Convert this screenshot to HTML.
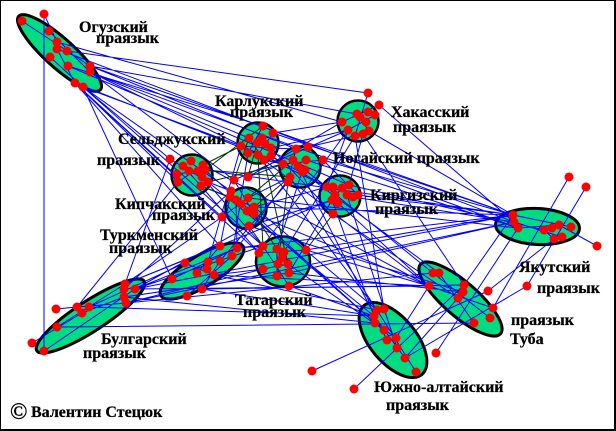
<!DOCTYPE html>
<html><head><meta charset="utf-8">
<style>
html,body{margin:0;padding:0;background:#fff;}
svg{display:block;}
text{font-family:"Liberation Serif","DejaVu Serif",serif;font-weight:bold;font-size:16px;fill:#000;stroke:#000;stroke-width:0.25;}
</style></head>
<body>
<svg width="616" height="431" viewBox="0 0 616 431" xmlns="http://www.w3.org/2000/svg">
<rect x="0" y="0" width="616" height="431" fill="#fff"/>
<rect x="0" y="0" width="616" height="1" fill="#000"/>
<rect x="0" y="0" width="1" height="431" fill="#000"/>
<rect x="0" y="429" width="616" height="2" fill="#000"/>
<rect x="614" y="0" width="2" height="431" fill="#000"/>

<g fill="#00dc82" stroke="#000" stroke-width="3">
<ellipse cx="59.5" cy="53" rx="55" ry="14.5" transform="rotate(42 59.5 53)"/>
<ellipse cx="202" cy="271" rx="48" ry="15.5" transform="rotate(-31 202 271)"/>
<ellipse cx="90.5" cy="316" rx="64" ry="15" transform="rotate(-33 90.5 316)"/>
<ellipse cx="537.5" cy="226.5" rx="42" ry="18" transform="rotate(3 537.5 226.5)"/>
<ellipse cx="460.5" cy="299" rx="53" ry="17" transform="rotate(41 460.5 299)"/>
<ellipse cx="393" cy="340" rx="45" ry="23" transform="rotate(50 393 340)"/>
</g>
<g fill="#00dc82" stroke="#000" stroke-width="2.5">
<circle cx="258" cy="143" r="20.5"/>
<circle cx="358" cy="121" r="20.5"/>
<circle cx="192" cy="175" r="20.5"/>
<circle cx="300" cy="167" r="20.5"/>
<circle cx="340" cy="196" r="20.5"/>
<circle cx="246" cy="208" r="20.5"/>
<ellipse cx="283" cy="261.5" rx="27" ry="25"/>
</g>

<path fill="none" stroke="#0000ff" stroke-width="1" d="
M67,51 L368,93 M57,42 L342,122 M90,66 L357,114
M68,66 L263,126 M90,72 L249,138 M83,87 L241,146
M90,66 L296,149 M75,83 L283,164
M90,72 L327,187 M68,66 L349,185
M90,66 L513,215 M90,72 L518,228 M57,49 L514,222
M83,87 L170,159 M75,83 L178,182
M83,87 L231,191 M75,83 L222,217 M90,72 L234,180
M83,87 L263,246 M75,83 L259,253
M75,83 L220,246 M83,87 L172,279
M44,14 L44,351
M22,21 L90,66 M44,14 L57,42 M49,31 L90,72 M50,57 L83,87 M57,49 L75,83
M125,284 L220,246 M135,289 L237,248 M89,307 L185,263
M125,284 L222,217 M124,289 L231,191 M135,289 L249,226
M125,284 L170,159 M77,307 L178,182
M135,289 L263,246 M126,303 L263,269 M124,297 L289,273
M135,289 L429,286 M126,303 L433,273 M57,327 L474,323
M89,307 L374,316 M124,297 L375,323
M135,289 L513,215 M126,303 L514,222
M125,284 L332,200
M56,309 L77,307 M57,327 L125,284 M44,351 L135,289 M32,343 L82,313 M82,313 L124,297 M77,307 L126,303
M237,248 L263,246 M214,275 L263,269
M220,246 L230,197 M237,248 L236,200
M232,256 L248,153 M208,262 L241,146
M237,248 L290,177 M220,261 L288,182
M214,275 L429,286 M202,289 L464,285
M202,289 L374,316 M214,275 L377,310
M237,248 L513,215
M172,279 L237,248 M187,296 L232,256 M185,263 L214,275 M197,273 L220,246 M202,289 L220,261
M208,182 L231,191 M201,186 L230,197
M202,177 L263,246 M201,186 L259,253
M208,182 L374,316 M205,170 L375,323
M203,165 L429,286 M205,170 L513,215
M170,159 L208,182 M177,174 L205,170 M183,166 L201,186 M178,182 L203,165
M273,133 L342,122 M271,148 L348,130
M271,148 L296,149 M264,160 L283,164
M271,156 L327,187 M271,148 L333,214
M273,133 L513,215 M264,160 L429,286 M258,155 L377,310
M263,126 L248,153 M241,146 L271,148 M249,138 L264,160 M273,133 L258,155
M342,122 L296,149 M355,136 L308,147
M348,130 L327,187 M363,134 L349,185
M342,122 L248,177 M348,130 L234,180
M355,136 L284,252 M348,130 L263,246
M369,131 L513,215 M379,105 L514,222
M363,134 L464,285 M355,136 L384,309
M368,93 L355,136 M342,122 L379,105 M357,114 L369,131 M348,130 L375,115
M283,164 L248,177 M290,177 L248,198
M302,172 L277,249
M323,160 L358,195 M305,170 L327,187
M323,160 L513,215 M306,160 L518,228
M305,170 L433,273 M302,172 L439,273
M290,177 L377,310 M298,166 L387,340
M296,149 L288,182 M283,164 L323,160 M293,160 L305,170
M327,187 L254,207 M332,200 L249,226
M335,195 L289,273
M358,195 L513,215 M353,197 L514,222 M349,185 L544,230
M338,203 L429,286 M333,214 L458,298
M332,200 L374,316 M347,195 L397,348
M327,187 L358,195 M333,187 L338,203 M342,188 L332,200
M254,214 L429,286 M249,226 L463,292
M254,207 L377,310 M247,211 L375,323
M254,207 L513,215 M248,198 L518,228
M234,180 L254,214 M230,197 L254,207 M222,217 L248,198
M306,250 L429,286 M289,273 L463,292
M289,286 L374,316 M288,264 L384,330
M306,250 L513,215 M289,273 L514,222
M263,246 L289,286 M259,253 L306,250 M263,269 L288,264 M277,249 L277,276
M429,286 L396,338 M458,298 L405,358
M464,285 L513,215 M488,291 L554,239
M433,273 L490,318 M429,286 L493,308 M439,273 L474,323 M464,285 L458,298
M377,310 L416,372 M374,316 L405,358 M384,309 L397,348 M375,323 L396,338
M513,215 L571,227 M514,222 L562,237 M518,228 L559,225 M544,230 L554,239
M569,177 L493,308 M586,187 L527,286 M597,246 L559,225
M527,286 L405,358 M436,353 L518,228
M312,371 L488,291 M354,389 L464,285
"/>

<path fill="none" stroke="#003000" stroke-width="1" d="
M203,165 L241,146 M205,170 L263,126 M208,182 L283,164 M205,170 L290,177
M248,177 L257,143 M234,180 L249,138
M254,207 L290,177 M248,198 L293,160
M249,226 L263,246 M254,214 L277,249
M258,155 L263,246 M264,160 L288,264 M288,182 L278,264
M333,214 L306,250 M201,186 L236,200 M271,156 L283,164
"/>

<g fill="#ff0000">
<circle cx="44" cy="14" r="4.5"/><circle cx="22" cy="21" r="4.5"/><circle cx="49" cy="31" r="4.5"/><circle cx="57" cy="42" r="4.5"/><circle cx="57" cy="49" r="4.5"/><circle cx="67" cy="51" r="4.5"/><circle cx="50" cy="57" r="4.5"/><circle cx="68" cy="66" r="4.5"/><circle cx="90" cy="66" r="4.5"/><circle cx="90" cy="72" r="4.5"/><circle cx="75" cy="83" r="4.5"/><circle cx="83" cy="87" r="4.5"/>
<circle cx="263" cy="126" r="4.5"/><circle cx="273" cy="133" r="4.5"/><circle cx="249" cy="138" r="4.5"/><circle cx="262" cy="138" r="4.5"/><circle cx="257" cy="143" r="4.5"/><circle cx="265" cy="144" r="4.5"/><circle cx="241" cy="146" r="4.5"/><circle cx="271" cy="148" r="4.5"/><circle cx="248" cy="153" r="4.5"/><circle cx="258" cy="155" r="4.5"/><circle cx="271" cy="156" r="4.5"/><circle cx="264" cy="160" r="4.5"/>
<circle cx="368" cy="93" r="4.5"/><circle cx="379" cy="105" r="4.5"/><circle cx="357" cy="114" r="4.5"/><circle cx="368" cy="112" r="4.5"/><circle cx="375" cy="115" r="4.5"/><circle cx="342" cy="122" r="4.5"/><circle cx="360" cy="117" r="4.5"/><circle cx="366" cy="122" r="4.5"/><circle cx="348" cy="130" r="4.5"/><circle cx="363" cy="134" r="4.5"/><circle cx="369" cy="131" r="4.5"/><circle cx="355" cy="136" r="4.5"/>
<circle cx="296" cy="149" r="4.5"/><circle cx="308" cy="147" r="4.5"/><circle cx="323" cy="160" r="4.5"/><circle cx="283" cy="164" r="4.5"/><circle cx="293" cy="160" r="4.5"/><circle cx="306" cy="160" r="4.5"/><circle cx="298" cy="166" r="4.5"/><circle cx="305" cy="170" r="4.5"/><circle cx="302" cy="172" r="4.5"/><circle cx="290" cy="177" r="4.5"/><circle cx="288" cy="182" r="4.5"/>
<circle cx="327" cy="187" r="4.5"/><circle cx="333" cy="187" r="4.5"/><circle cx="342" cy="188" r="4.5"/><circle cx="349" cy="185" r="4.5"/><circle cx="335" cy="195" r="4.5"/><circle cx="347" cy="195" r="4.5"/><circle cx="353" cy="197" r="4.5"/><circle cx="358" cy="195" r="4.5"/><circle cx="332" cy="200" r="4.5"/><circle cx="338" cy="203" r="4.5"/><circle cx="333" cy="214" r="4.5"/>
<circle cx="170" cy="159" r="4.5"/><circle cx="183" cy="166" r="4.5"/><circle cx="191" cy="161" r="4.5"/><circle cx="203" cy="165" r="4.5"/><circle cx="177" cy="174" r="4.5"/><circle cx="189" cy="171" r="4.5"/><circle cx="198" cy="171" r="4.5"/><circle cx="205" cy="170" r="4.5"/><circle cx="202" cy="177" r="4.5"/><circle cx="208" cy="182" r="4.5"/><circle cx="178" cy="182" r="4.5"/><circle cx="201" cy="186" r="4.5"/>
<circle cx="234" cy="180" r="4.5"/><circle cx="248" cy="177" r="4.5"/><circle cx="231" cy="191" r="4.5"/><circle cx="230" cy="197" r="4.5"/><circle cx="236" cy="200" r="4.5"/><circle cx="241" cy="204" r="4.5"/><circle cx="248" cy="198" r="4.5"/><circle cx="254" cy="207" r="4.5"/><circle cx="247" cy="211" r="4.5"/><circle cx="254" cy="214" r="4.5"/><circle cx="222" cy="217" r="4.5"/><circle cx="249" cy="226" r="4.5"/>
<circle cx="263" cy="246" r="4.5"/><circle cx="277" cy="249" r="4.5"/><circle cx="284" cy="252" r="4.5"/><circle cx="306" cy="250" r="4.5"/><circle cx="259" cy="253" r="4.5"/><circle cx="282" cy="258" r="4.5"/><circle cx="278" cy="264" r="4.5"/><circle cx="288" cy="264" r="4.5"/><circle cx="263" cy="269" r="4.5"/><circle cx="289" cy="273" r="4.5"/><circle cx="277" cy="276" r="4.5"/><circle cx="289" cy="286" r="4.5"/>
<circle cx="220" cy="246" r="4.5"/><circle cx="237" cy="248" r="4.5"/><circle cx="232" cy="256" r="4.5"/><circle cx="220" cy="261" r="4.5"/><circle cx="208" cy="262" r="4.5"/><circle cx="185" cy="263" r="4.5"/><circle cx="207" cy="269" r="4.5"/><circle cx="197" cy="273" r="4.5"/><circle cx="214" cy="275" r="4.5"/><circle cx="172" cy="279" r="4.5"/><circle cx="202" cy="289" r="4.5"/><circle cx="187" cy="296" r="4.5"/>
<circle cx="125" cy="284" r="4.5"/><circle cx="135" cy="289" r="4.5"/><circle cx="124" cy="289" r="4.5"/><circle cx="124" cy="297" r="4.5"/><circle cx="126" cy="303" r="4.5"/><circle cx="56" cy="309" r="4.5"/><circle cx="77" cy="307" r="4.5"/><circle cx="89" cy="307" r="4.5"/><circle cx="82" cy="313" r="4.5"/><circle cx="57" cy="327" r="4.5"/><circle cx="32" cy="343" r="4.5"/><circle cx="44" cy="351" r="4.5"/>
<circle cx="569" cy="177" r="4.5"/><circle cx="586" cy="187" r="4.5"/><circle cx="513" cy="215" r="4.5"/><circle cx="514" cy="222" r="4.5"/><circle cx="518" cy="228" r="4.5"/><circle cx="544" cy="230" r="4.5"/><circle cx="552" cy="228" r="4.5"/><circle cx="559" cy="225" r="4.5"/><circle cx="571" cy="227" r="4.5"/><circle cx="554" cy="239" r="4.5"/><circle cx="562" cy="237" r="4.5"/><circle cx="597" cy="246" r="4.5"/>
<circle cx="433" cy="273" r="4.5"/><circle cx="439" cy="273" r="4.5"/><circle cx="429" cy="286" r="4.5"/><circle cx="464" cy="285" r="4.5"/><circle cx="463" cy="292" r="4.5"/><circle cx="458" cy="298" r="4.5"/><circle cx="488" cy="291" r="4.5"/><circle cx="493" cy="308" r="4.5"/><circle cx="490" cy="318" r="4.5"/><circle cx="474" cy="323" r="4.5"/><circle cx="527" cy="286" r="4.5"/><circle cx="436" cy="353" r="4.5"/>
<circle cx="377" cy="310" r="4.5"/><circle cx="384" cy="309" r="4.5"/><circle cx="374" cy="316" r="4.5"/><circle cx="375" cy="323" r="4.5"/><circle cx="384" cy="330" r="4.5"/><circle cx="396" cy="338" r="4.5"/><circle cx="387" cy="340" r="4.5"/><circle cx="397" cy="348" r="4.5"/><circle cx="405" cy="358" r="4.5"/><circle cx="416" cy="372" r="4.5"/><circle cx="312" cy="371" r="4.5"/><circle cx="354" cy="389" r="4.5"/>
</g>

<text x="79" y="32">Огузский</text>
<text x="96" y="43">праязык</text>
<text x="215" y="106">Карлукский</text>
<text x="230" y="117">праязык</text>
<text x="391" y="117">Хакасский</text>
<text x="393" y="132">праязык</text>
<text x="333" y="163">Ногайский праязык</text>
<text x="370" y="200">Киргизский</text>
<text x="375" y="214">праязык</text>
<text x="118" y="144">Сельджукский</text>
<text x="97" y="165">праязык</text>
<text x="115" y="209">Кипчакский</text>
<text x="152" y="220">праязык</text>
<text x="100" y="240">Туркменский</text>
<text x="109" y="253">праязык</text>
<text x="235" y="305">Татарский</text>
<text x="243" y="317">праязык</text>
<text x="101" y="344">Булгарский</text>
<text x="83" y="358">праязык</text>
<text x="519" y="272">Якутский</text>
<text x="537" y="293">праязык</text>
<text x="511" y="325">праязык</text>
<text x="510" y="344">Туба</text>
<text x="374" y="392">Южно-алтайский</text>
<text x="386" y="410">праязык</text>
<text x="10" y="419" style="font-size:23px;font-weight:normal;stroke-width:0.4">©</text>
<text x="31" y="417">Валентин Стецюк</text>
</svg>
</body></html>
